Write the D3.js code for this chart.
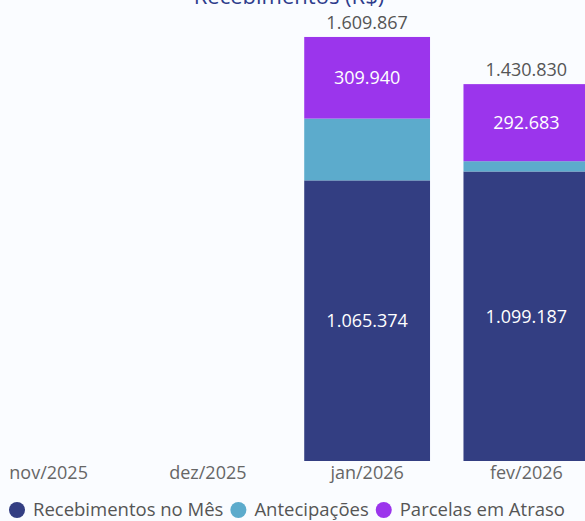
<!DOCTYPE html>
<html>
<head>
<meta charset="utf-8">
<script src="https://cdn.jsdelivr.net/npm/d3@7"></script>
<style>
  html, body { margin: 0; padding: 0; background: #fafcff; overflow: hidden; }
  svg { display: block; font-family: "Open Sans", "Noto Sans", sans-serif; }
</style>
</head>
<body>
<div id="chart"></div>
<script>
// Data
const months = ['nov/2025', 'dez/2025', 'jan/2026', 'fev/2026'];
const series = ['Recebimentos no Mês', 'Antecipações', 'Parcelas em Atraso'];
const recebimentos = [0, 0, 1065374, 1099187];
const antecipacoes = [0, 0, 234553, 38960];
const atraso = [0, 0, 309940, 292683];
const colors = ['#333e82', '#5cabcc', '#9b35ec'];

const W = 585, H = 521;
const svg = d3.select('#chart').append('svg')
    .attr('width', W)
    .attr('height', H);

svg.append('rect').attr('width', W).attr('height', H).attr('fill', '#fafcff');

// Build the stacked rows
const rows = months.map((m, i) => ({
    month: m,
    'Recebimentos no Mês': recebimentos[i],
    'Antecipações': antecipacoes[i],
    'Parcelas em Atraso': atraso[i]
}));
const stacked = d3.stack().keys(series)(rows);

// Scales
const xScale = d3.scaleBand()
    .domain(months)
    .range([-31, 606])
    .paddingInner(0.21)
    .paddingOuter(0.105);
const yScale = d3.scaleLinear()
    .domain([0, 1700000])
    .range([461, 461 - 1700000 * 0.0002634]);
const fmt = v => d3.format(',.0f')(v).replace(/,/g, '.');

// Title (partly cut off at top, as in the original)
svg.append('text')
    .attr('x', 289)
    .attr('y', 4)
    .attr('text-anchor', 'middle')
    .attr('font-size', 22)
    .attr('fill', '#2e3c8c')
    .text('Recebimentos (R$)');

// Bars
const layers = svg.selectAll('g.layer')
    .data(stacked)
    .enter().append('g')
    .attr('class', 'layer')
    .attr('fill', (d, i) => colors[i]);
layers.selectAll('rect')
    .data(d => d.filter(p => p[1] - p[0] > 0))
    .enter().append('rect')
    .attr('x', d => xScale(d.data.month))
    .attr('y', d => yScale(d[1]))
    .attr('width', xScale.bandwidth())
    .attr('height', d => yScale(d[0]) - yScale(d[1]));

// Labels inside segments (first and last series)
[0, 2].forEach(si => {
    svg.selectAll('.lbl' + si)
        .data(stacked[si].filter(p => p[1] - p[0] > 0))
        .enter().append('text')
        .attr('x', d => xScale(d.data.month) + xScale.bandwidth() / 2)
        .attr('y', d => (yScale(d[0]) + yScale(d[1])) / 2)
        .attr('dy', '0.35em')
        .attr('text-anchor', 'middle')
        .attr('font-size', 18)
        .attr('fill', '#ffffff')
        .text(d => fmt(d[1] - d[0]));
});

// Totals above bars
const totals = months.map((m, i) => recebimentos[i] + antecipacoes[i] + atraso[i]);
svg.selectAll('.total')
    .data(months.filter((m, i) => totals[i] > 0))
    .enter().append('text')
    .attr('x', d => xScale(d) + xScale.bandwidth() / 2)
    .attr('y', d => yScale(totals[months.indexOf(d)]) - 8)
    .attr('text-anchor', 'middle')
    .attr('font-size', 18)
    .attr('fill', '#555555')
    .text(d => fmt(totals[months.indexOf(d)]));

// X axis labels
svg.selectAll('.xlabel')
    .data(months)
    .enter().append('text')
    .attr('x', d => xScale(d) + xScale.bandwidth() / 2)
    .attr('y', 479)
    .attr('text-anchor', 'middle')
    .attr('font-size', 18)
    .attr('fill', '#666666')
    .text(d => d);

// Legend
const legend = svg.append('g').attr('transform', 'translate(0, 510)');
let lx = 17;
series.forEach((s, i) => {
    legend.append('circle')
        .attr('cx', lx)
        .attr('cy', 0)
        .attr('r', 8)
        .attr('fill', colors[i]);
    const t = legend.append('text')
        .attr('x', lx + 16)
        .attr('y', 0)
        .attr('dy', '0.35em')
        .attr('font-size', 18.5)
        .attr('fill', '#555555')
        .text(s);
    lx += 16 + t.node().getComputedTextLength() + 15;
});
</script>
</body>
</html>
